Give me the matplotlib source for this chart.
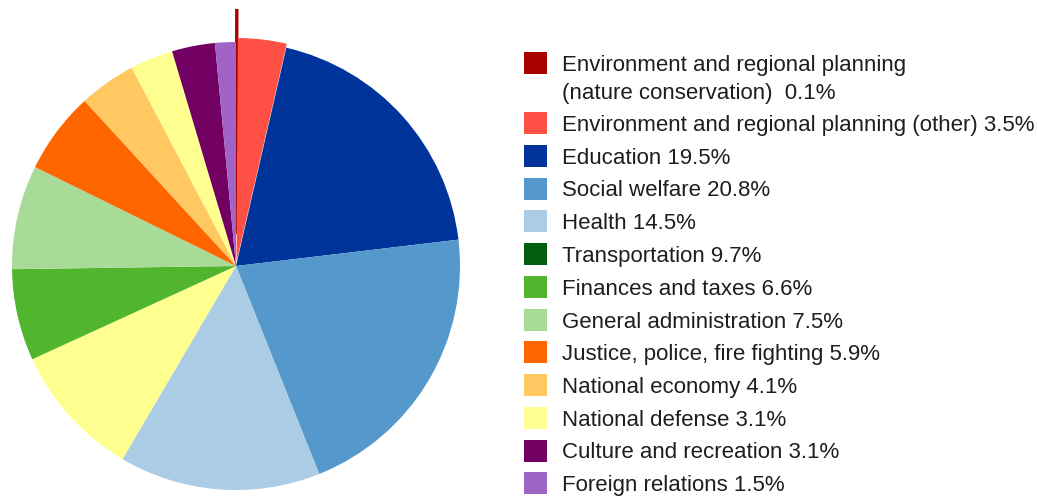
"""Public spending shares pie chart with a side legend."""

import matplotlib

matplotlib.use("Agg")
import matplotlib.pyplot as plt
from matplotlib.patches import Rectangle

labels = [
    "Environment and regional planning\n(nature conservation)  0.1%",
    "Environment and regional planning (other) 3.5%",
    "Education 19.5%",
    "Social welfare 20.8%",
    "Health 14.5%",
    "Transportation 9.7%",
    "Finances and taxes 6.6%",
    "General administration 7.5%",
    "Justice, police, fire fighting 5.9%",
    "National economy 4.1%",
    "National defense 3.1%",
    "Culture and recreation 3.1%",
    "Foreign relations 1.5%",
]
shares = [0.1, 3.5, 19.5, 20.8, 14.5, 9.7, 6.6, 7.5, 5.9, 4.1, 3.1, 3.1, 1.5]
legend_colors = [
    "#AA0000", "#FF5046", "#00349A", "#5599CC", "#AACCE4", "#005E0E",
    "#52B52E", "#A8DA98", "#FF6600", "#FFC860", "#FFFF90", "#720062", "#A064C8",
]
# the source draws the transportation slice in pale yellow
pie_colors = list(legend_colors)
pie_colors[5] = "#FFFF90"
explode_px = [32, 4, 0, 0, 0, 0, 0, 0, 0, 0, 0, 0, 0]

W, H = 1037, 500
fig = plt.figure(figsize=(W / 100, H / 100), dpi=100)
ax = fig.add_axes([0, 0, 1, 1])

wedges, _ = ax.pie(
    shares,
    colors=pie_colors,
    startangle=90,
    counterclock=False,
    center=(236, H - 266),
    radius=224,
    explode=explode_px,  # pie explodes in data units, here pixels
)
wedges[0].set_edgecolor(legend_colors[0])
wedges[0].set_linewidth(1.5)

ax.set_xlim(0, W)
ax.set_ylim(0, H)
ax.set_aspect("equal")
ax.axis("off")

# legend drawn by hand so the two-line first entry lines up with its square
font = ["Liberation Sans", "DejaVu Sans"]
for i, (label, color) in enumerate(zip(labels, legend_colors)):
    yc = 63 if i == 0 else 123 + 32.75 * (i - 1)
    ax.add_patch(Rectangle((524, H - yc - 11), 23, 22, facecolor=color,
                           edgecolor="none"))
    for j, line in enumerate(label.split("\n")):
        ax.text(562, H - (yc + 8 + 28 * j), line, fontsize=16, family=font,
                color="#1E1E1E", va="baseline", ha="left")

fig.savefig("out.png", dpi=100)
